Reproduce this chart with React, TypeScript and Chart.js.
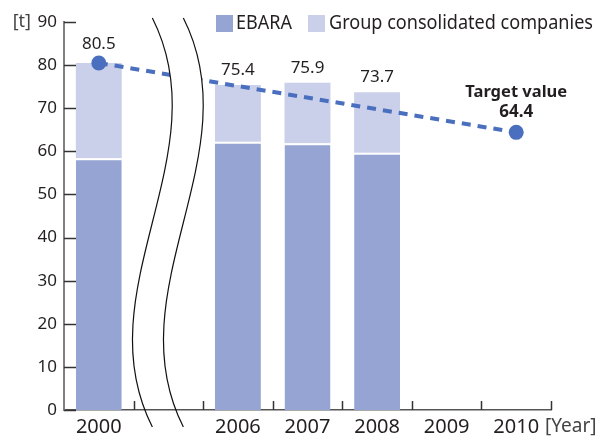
import React, { useEffect, useRef } from 'react';
import { Chart, registerables } from 'chart.js';

Chart.register(...registerables);

// ---- data ----
const categories: string[] = ['2000', '', '2006', '2007', '2008', '2009', '2010'];
const ebaraValues: (number | null)[] = [58.4, null, 62.2, 61.9, 59.7, null, null];
const groupValues: (number | null)[] = [22.1, null, 13.2, 14.0, 14.0, null, null];
const totalLabels: (string | null)[] = ['80.5', null, '75.4', '75.9', '73.7', null, null];
const totalValues: (number | null)[] = [80.5, null, 75.4, 75.9, 73.7, null, null];
const trendValues: (number | null)[] = [80.5, null, null, null, null, null, 64.4];
const yTickValues: number[] = [0, 10, 20, 30, 40, 50, 60, 70, 80, 90];
const breakIndex = 1;
const targetIndex = 6;

const FONT = '"Noto Sans", "DejaVu Sans", sans-serif';
const TEXT = '#231f20';
const C_EBARA = '#95a4d3';
const C_GROUP = '#cad0ea';
const C_LINE = '#4a6fbf';

const decorPlugin = {
  id: 'decor',
  afterDatasetsDraw(chart: any) {
    const { ctx, chartArea, scales } = chart;
    const x = scales.x;
    const y = scales.y;
    ctx.save();
    // break curves
    const c = x.getPixelForValue(breakIndex);
    const top = chartArea.top - 4;
    const bot = chartArea.bottom + 17;
    const h = bot - top;
    const curve = (dx: number, reverse: boolean) => {
      const p0 = c - 16 + dx, p1 = c + 53 + dx, p2 = c - 85 + dx;
      if (!reverse) {
        ctx.bezierCurveTo(p1, top + h / 3, p2, top + (2 * h) / 3, p0, bot);
      } else {
        ctx.bezierCurveTo(p2, top + (2 * h) / 3, p1, top + h / 3, p0, top);
      }
    };
    ctx.save();
    ctx.beginPath();
    ctx.rect(0, 0, chart.width, chartArea.bottom - 1);
    ctx.clip();
    ctx.beginPath();
    ctx.moveTo(c - 16, top);
    curve(0, false);
    ctx.lineTo(c - 16 + 31, bot);
    curve(31, true);
    ctx.closePath();
    ctx.fillStyle = '#ffffff';
    ctx.fill();
    ctx.restore();
    ctx.strokeStyle = '#111';
    ctx.lineWidth = 1.2;
    for (const dx of [0, 31]) {
      ctx.beginPath();
      ctx.moveTo(c - 16 + dx, top);
      curve(dx, false);
      ctx.stroke();
    }

    // value labels
    ctx.fillStyle = TEXT;
    ctx.textAlign = 'center';
    ctx.textBaseline = 'middle';
    ctx.font = `17px ${FONT}`;
    totalValues.forEach((v, i) => {
      if (v == null || totalLabels[i] == null) return;
      const px = x.getPixelForValue(i);
      const py = y.getPixelForValue(v);
      const off = trendValues[i] != null ? 19 : 15;
      ctx.fillText(totalLabels[i] as string, px, py - off);
    });
    // target label
    const tv = trendValues[targetIndex] as number;
    const tx = x.getPixelForValue(targetIndex);
    const ty = y.getPixelForValue(tv);
    ctx.font = `bold 16.5px ${FONT}`;
    ctx.fillText('Target value', tx, ty - 40);
    ctx.font = `bold 17px ${FONT}`;
    ctx.fillText(String(tv), tx, ty - 20);
    ctx.restore();
  },
  afterDraw(chart: any) {
    const { ctx, chartArea, scales } = chart;
    const x = scales.x;
    const y = scales.y;
    ctx.save();
    // y tick marks (inward)
    ctx.strokeStyle = '#333';
    ctx.lineWidth = 1.5;
    yTickValues.forEach((v) => {
      const py = Math.round(y.getPixelForValue(v)) + 0.5;
      ctx.beginPath();
      ctx.moveTo(chartArea.left, py);
      ctx.lineTo(chartArea.left + 12, py);
      ctx.stroke();
    });
    // x tick marks (upward at category boundaries)
    for (let i = 0; i < categories.length; i++) {
      const px = Math.round(x.getPixelForValue(i + 0.5)) + 0.5;
      ctx.beginPath();
      ctx.moveTo(px, chartArea.bottom);
      ctx.lineTo(px, chartArea.bottom - 9);
      ctx.stroke();
    }
    // unit labels
    ctx.fillStyle = '#444';
    ctx.textBaseline = 'middle';
    ctx.font = `18px ${FONT}`;
    ctx.textAlign = 'right';
    ctx.fillText('[t]', 31, chartArea.top);
    ctx.textAlign = 'left';
    ctx.font = `19px ${FONT}`;
    ctx.fillText('[Year]', chartArea.right - 6, chartArea.bottom + 17);

    // legend
    ctx.font = `19px ${FONT}`;
    ctx.textBaseline = 'middle';
    ctx.fillStyle = C_EBARA;
    ctx.fillRect(216, 15, 17, 17);
    ctx.fillStyle = C_GROUP;
    ctx.fillRect(308, 15, 17, 17);
    ctx.fillStyle = TEXT;
    ctx.fillText(chart.data.datasets[0].label, 236, 24, 56);
    ctx.fillText(chart.data.datasets[1].label, 329, 24, 264);
    ctx.restore();
  },
};

export default function App() {
  const ref = useRef<HTMLCanvasElement | null>(null);
  useEffect(() => {
    document.body.style.margin = '0';
    const canvas = ref.current;
    if (!canvas) return;
    const chart = new Chart(canvas, {
      type: 'bar',
      data: {
        labels: categories,
        datasets: [
          {
            type: 'bar',
            label: 'EBARA',
            data: ebaraValues,
            backgroundColor: C_EBARA,
            borderColor: '#ffffff',
            borderWidth: { top: 2, left: 0, right: 0, bottom: 0 },
            borderSkipped: false,
            stack: 'bars',
            order: 1,
          },
          {
            type: 'bar',
            label: 'Group consolidated companies',
            data: groupValues,
            backgroundColor: C_GROUP,
            borderWidth: 0,
            stack: 'bars',
            order: 2,
          },
          {
            type: 'line',
            label: 'Trend',
            data: trendValues,
            borderColor: C_LINE,
            backgroundColor: C_LINE,
            borderWidth: 4,
            borderDash: [9, 7],
            spanGaps: true,
            pointRadius: 7.5,
            pointBorderWidth: 0,
            pointBackgroundColor: C_LINE,
            stack: 'line',
            order: 0,
          } as any,
        ],
      },
      options: {
        responsive: false,
        animation: false,
        layout: { padding: { top: 22, right: 47, left: 0, bottom: 0 } },
        datasets: { bar: { barPercentage: 0.66, categoryPercentage: 1.0 } },
        plugins: { legend: { display: false }, tooltip: { enabled: false } },
        scales: {
          x: {
            stacked: true,
            grid: { display: false, drawTicks: false },
            border: { display: true, color: '#555', width: 1.5 },
            ticks: { color: TEXT, font: { family: FONT, size: 20 }, padding: 5, maxRotation: 0, autoSkip: false },
            afterFit: (s: any) => { s.height = 27; },
          },
          y: {
            stacked: true,
            min: 0,
            max: 90,
            grid: { display: false, drawTicks: false },
            border: { display: true, color: '#808080', width: 2 },
            ticks: { stepSize: 10, color: TEXT, font: { family: FONT, size: 17 }, padding: 7 },
            afterFit: (s: any) => { s.width = 64; },
          },
        },
      },
      plugins: [decorPlugin],
    } as any);
    return () => chart.destroy();
  }, []);
  return (
    <div style={{ width: 598, height: 437 }}>
      <canvas ref={ref} width={598} height={437} />
    </div>
  );
}
